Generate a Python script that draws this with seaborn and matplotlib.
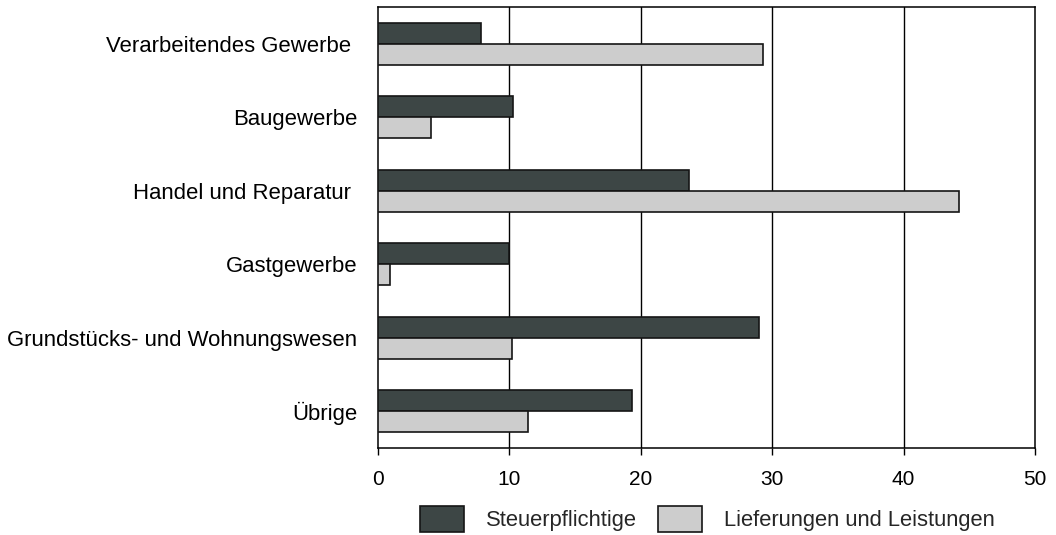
import matplotlib
matplotlib.use("Agg")
import matplotlib.pyplot as plt
import seaborn as sns
import pandas as pd

# Sector categories (top to bottom) and the two shares in percent
sectors = [
    "Verarbeitendes Gewerbe ",
    "Baugewerbe",
    "Handel und Reparatur ",
    "Gastgewerbe",
    "Grundstücks- und Wohnungswesen",
    "Übrige",
]
series_names = ["Steuerpflichtige", "Lieferungen und Leistungen"]
steuerpflichtige = [7.8, 10.3, 23.7, 10.0, 29.0, 19.3]
lieferungen = [29.3, 4.0, 44.2, 0.9, 10.2, 11.4]
x_ticks = [0, 10, 20, 30, 40, 50]

df = pd.DataFrame({
    "Bereich": sectors * 2,
    "Reihe": [series_names[0]] * len(sectors) + [series_names[1]] * len(sectors),
    "Anteil": steuerpflichtige + lieferungen,
})

sns.set_theme(style="white")
plt.rcParams["font.family"] = ["Liberation Sans", "DejaVu Sans"]

fig = plt.figure(figsize=(10.56, 5.35), dpi=100)
ax = fig.add_axes([0.3580, 0.1626, 0.6222, 0.8243])

palette = {series_names[0]: "#3d4645", series_names[1]: "#cdcdcd"}
sns.barplot(
    data=df, x="Anteil", y="Bereich", hue="Reihe",
    order=sectors, hue_order=series_names, palette=palette,
    orient="h", width=0.57, gap=0, saturation=1,
    edgecolor="#151515", linewidth=1.2, ax=ax, legend=False, zorder=3,
)

ax.set_xlim(0, 50)
ax.set_xticks(x_ticks)
ax.set_xticklabels([str(t) for t in x_ticks])
ax.set_xlabel("")
ax.set_ylabel("")

ax.grid(False)
for t in x_ticks[1:-1]:
    ax.axvline(t, color="#000000", linewidth=1.0, zorder=1)

for side in ["left", "right", "top", "bottom"]:
    ax.spines[side].set_visible(True)
    ax.spines[side].set_color("#000000")
    ax.spines[side].set_linewidth(1.1)

ax.tick_params(axis="x", direction="out", length=5, width=1.0, color="#000000",
               pad=11, labelsize=15, labelcolor="#000000", bottom=True)
ax.tick_params(axis="y", length=0, pad=15, labelsize=15.9, labelcolor="#000000")

handles = [
    plt.Rectangle((0, 0), 1, 1, facecolor=palette[n], edgecolor="#151515", linewidth=1.2)
    for n in series_names
]
fig.legend(
    handles, series_names, loc="center", bbox_to_anchor=(0.670, 0.030),
    ncol=2, frameon=False, fontsize=15.8, handlelength=2.0, handleheight=1.45,
    handletextpad=1.0, columnspacing=0.95, borderpad=0, borderaxespad=0,
)

fig.savefig("out.png", dpi=100)
